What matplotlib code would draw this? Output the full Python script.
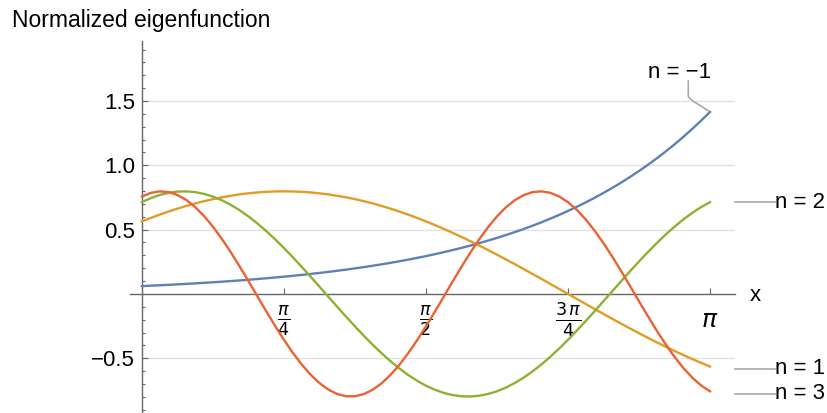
import numpy as np
import matplotlib.pyplot as plt
from matplotlib.ticker import FixedLocator, MultipleLocator, NullFormatter, FixedFormatter

plt.rcParams['font.family'] = ['Liberation Sans', 'DejaVu Sans']
plt.rcParams['mathtext.fontset'] = 'dejavusans'

########################## data ##########################
# samples at x = k*pi/64, k = 0..64
x = np.linspace(0, np.pi, 65)

psi_m1 = [0.06117, 0.06425, 0.06748, 0.07088, 0.07444, 0.07819, 0.08212, 0.08625,
          0.09059, 0.09515, 0.09994, 0.10497, 0.11025, 0.11579, 0.12162, 0.12774,
          0.13416, 0.14091, 0.14800, 0.15545, 0.16327, 0.17148, 0.18011, 0.18917,
          0.19869, 0.20869, 0.21919, 0.23022, 0.24180, 0.25397, 0.26674, 0.28016,
          0.29426, 0.30906, 0.32461, 0.34094, 0.35810, 0.37611, 0.39504, 0.41491,
          0.43579, 0.45771, 0.48074, 0.50493, 0.53034, 0.55701, 0.58505, 0.61448,
          0.64539, 0.67786, 0.71197, 0.74779, 0.78541, 0.82492, 0.86643, 0.91002,
          0.95580, 1.00389, 1.05440, 1.10745, 1.16317, 1.22168, 1.28315, 1.34771,
          1.41552]
psi_1 = [0.56420, 0.59120, 0.61679, 0.64088, 0.66343, 0.68438, 0.70369, 0.72129,
         0.73716, 0.75126, 0.76354, 0.77399, 0.78257, 0.78926, 0.79406, 0.79694,
         0.79790, 0.79694, 0.79406, 0.78926, 0.78257, 0.77399, 0.76354, 0.75126,
         0.73716, 0.72129, 0.70369, 0.68438, 0.66343, 0.64088, 0.61679, 0.59120,
         0.56420, 0.53584, 0.50618, 0.47531, 0.44329, 0.41020, 0.37613, 0.34115,
         0.30534, 0.26880, 0.23162, 0.19387, 0.15566, 0.11708, 0.07821, 0.03915,
         0.0, -0.03915, -0.07821, -0.11708, -0.15566, -0.19387, -0.23162, -0.26880,
         -0.30534, -0.34115, -0.37613, -0.41020, -0.44329, -0.47531, -0.50618,
         -0.53584, -0.56420]
psi_2 = [0.71365, 0.74519, 0.76955, 0.78650, 0.79588, 0.79759, 0.79162, 0.77803,
         0.75694, 0.72857, 0.69317, 0.65110, 0.60276, 0.54862, 0.48920, 0.42505,
         0.35682, 0.28515, 0.21074, 0.13430, 0.05656, -0.02172, -0.09979, -0.17691,
         -0.25232, -0.32529, -0.39514, -0.46117, -0.52278, -0.57934, -0.63033,
         -0.67523, -0.71365, -0.74519, -0.76955, -0.78650, -0.79588, -0.79759,
         -0.79162, -0.77803, -0.75694, -0.72857, -0.69317, -0.65110, -0.60276,
         -0.54862, -0.48920, -0.42505, -0.35682, -0.28515, -0.21074, -0.13430,
         -0.05656, 0.02172, 0.09979, 0.17691, 0.25232, 0.32529, 0.39514, 0.46117,
         0.52278, 0.57934, 0.63033, 0.67523, 0.71365]
psi_3 = [0.75697, 0.78580, 0.79762, 0.79217, 0.76958, 0.73033, 0.67527, 0.60558,
         0.52279, 0.42869, 0.32530, 0.21488, 0.09979, -0.01745, -0.13431, -0.24826,
         -0.35685, -0.45769, -0.54865, -0.62772, -0.69320, -0.74368, -0.77805,
         -0.79559, -0.79591, -0.77900, -0.74521, -0.69531, -0.63035, -0.55174,
         -0.46119, -0.36066, -0.25232, -0.13852, -0.02173, 0.09556, 0.21075,
         0.32139, 0.42507, 0.51956, 0.60279, 0.67297, 0.72859, 0.76844, 0.79166,
         0.79772, 0.78653, 0.75831, 0.71369, 0.65360, 0.57937, 0.49259, 0.39515,
         0.28916, 0.17690, 0.06083, -0.05657, -0.17274, -0.28517, -0.39143,
         -0.48922, -0.57641, -0.65114, -0.71176, -0.75697]

series = [psi_m1, psi_1, psi_2, psi_3]
names = ['n = \u22121', 'n = 1', 'n = 2', 'n = 3']
colors = ['#5E81B5', '#E19C24', '#8FB032', '#EB6235']

x_ticks = [np.pi / 4, np.pi / 2, 3 * np.pi / 4, np.pi]
x_labels = [r'$\frac{\pi}{4}$', r'$\frac{\pi}{2}$', r'$\frac{3\,\pi}{4}$', r'$\pi$']
y_ticks = [-0.5, 0.5, 1.0, 1.5]
y_labels = ['\u22120.5', '0.5', '1.0', '1.5']

########################## plotting ##########################
fig = plt.figure(figsize=(8.28, 4.13), dpi=100)
ax = fig.add_axes([0.157, 0.0, 0.7307, 0.9007])
ax.set_xlim(-0.066, 3.28)
ax.set_ylim(-0.926, 1.967)

axis_col = '#666666'
grid_col = '#e2e2e2'

# light horizontal grid from the y axis to the right edge
ax.hlines(y_ticks, 0, 3.28, colors=grid_col, lw=1.0, zorder=0)

for y, c in zip(series, colors):
    ax.plot(x, y, color=c, lw=1.7, zorder=3)

# axes through the origin
for s in ['top', 'right']:
    ax.spines[s].set_visible(False)
ax.spines['left'].set_position(('data', 0))
ax.spines['bottom'].set_position(('data', 0))
for s in ['left', 'bottom']:
    ax.spines[s].set_color(axis_col)
    ax.spines[s].set_linewidth(1.0)

ax.xaxis.set_major_locator(FixedLocator(x_ticks))
ax.xaxis.set_major_formatter(FixedFormatter(x_labels))
ax.yaxis.set_major_locator(FixedLocator(y_ticks))
ax.yaxis.set_major_formatter(FixedFormatter(y_labels))
ax.yaxis.set_minor_locator(MultipleLocator(0.1))
ax.yaxis.set_minor_formatter(NullFormatter())

ax.tick_params(axis='both', which='major', direction='in', color=axis_col,
               length=4.3, width=0.8, labelsize=16)
ax.tick_params(axis='y', which='minor', direction='in', color=axis_col,
               length=2.2, width=0.8)
ax.tick_params(axis='y', which='major', pad=5)
ax.tick_params(axis='x', which='major', pad=19, labelsize=18)
for lab in ax.get_xticklabels():
    lab.set_verticalalignment('center')

# axis labels
ax.set_xlabel('x', fontsize=16, va='center', ha='center')
ax.xaxis.set_label_coords(1.033, 0.315)
ax.set_ylabel('Normalized eigenfunction', fontsize=16.5, rotation=0,
              ha='left', va='baseline')
ax.yaxis.set_label_coords(-0.195, 1.038)

# curve labels with gray leader lines
lead_col = '#a8a8a8'
xe = x[-1]
# n = -1 above the end of its curve
ye = psi_m1[-1]
ax.plot([xe - 0.01, xe - 0.10, xe - 0.12, xe - 0.12],
        [ye + 0.01, ye + 0.09, ye + 0.12, ye + 0.24],
        color=lead_col, lw=1.2, clip_on=False, zorder=2)
ax.text(xe - 0.17, ye + 0.31, names[0], fontsize=16, ha='center', va='center')

# the others to the right of the plot
right_pos = [(names[2], psi_2[-1]), (names[1], -0.58), (names[3], -0.775)]
for name, yl in right_pos:
    ax.plot([3.28, 3.50], [yl, yl], color=lead_col, lw=1.2, clip_on=False)
    ax.text(3.50, yl, name, fontsize=16, ha='left', va='center')

fig.savefig('out.png', dpi=100)
